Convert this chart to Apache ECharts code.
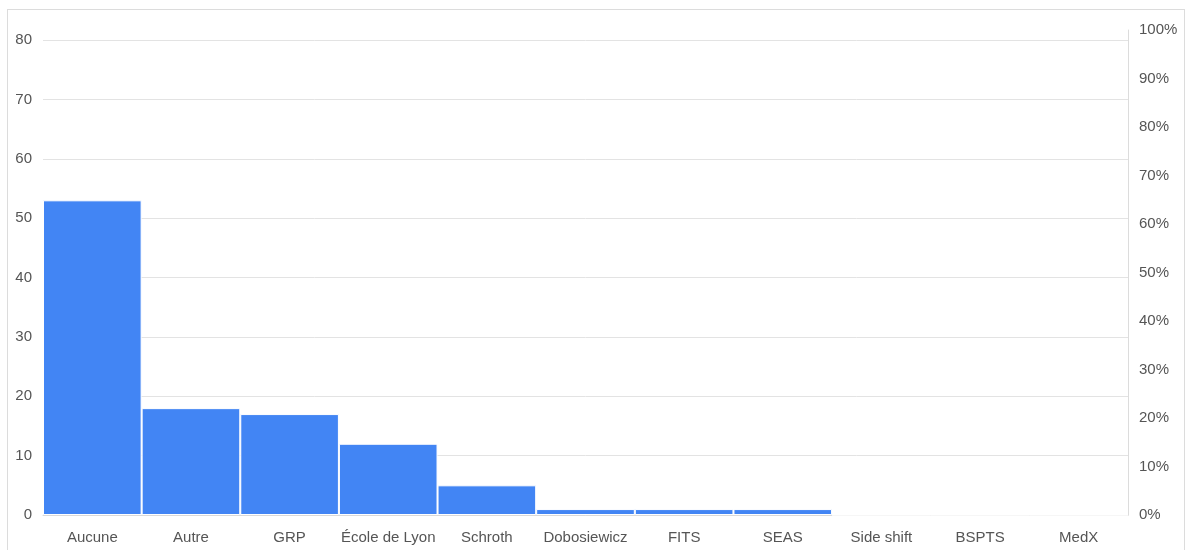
<!DOCTYPE html>
<html><head><meta charset="utf-8">
<script src="https://cdn.jsdelivr.net/npm/echarts@6/dist/echarts.min.js"></script>
<style>
html,body{margin:0;padding:0;background:#fff;}
#frame{position:absolute;left:7px;top:9px;width:1178px;height:600px;border:1px solid #dcdcdc;box-sizing:border-box;}
#c{position:absolute;left:0;top:0;width:1196px;height:550px;}
</style></head>
<body><div id="frame"></div><div id="c"></div>
<script>
const categories = ['Aucune','Autre','GRP','École de Lyon','Schroth','Dobosiewicz','FITS','SEAS','Side shift','BSPTS','MedX'];
const counts = [53,18,17,12,5,1,1,1,0,0,0];
const leftTicks = {min:0,max:80,interval:10};
const rightTicks = {min:0,max:1,interval:0.1};

const font = '"Liberation Sans", Arial, sans-serif';
const labelColor = '#555';
const chart = echarts.init(document.getElementById('c'));
chart.setOption({
  animation:false,
  grid:[
    {left:43,right:68,top:40,bottom:35},
    {left:43,right:68,top:30,bottom:35}
  ],
  xAxis:[
    {type:'category',gridIndex:0,data:categories,
     axisLine:{lineStyle:{color:'#d9d9d9'}},axisTick:{show:false},
     axisLabel:{color:labelColor,fontSize:15,fontFamily:font,margin:15,interval:0}},
    {type:'category',gridIndex:1,data:categories,show:false}
  ],
  yAxis:[
    {type:'value',gridIndex:0,min:leftTicks.min,max:leftTicks.max,interval:leftTicks.interval,
     axisLine:{show:false},axisTick:{show:false},
     splitLine:{lineStyle:{color:'#e3e3e3',width:1}},
     axisLabel:{color:labelColor,fontSize:15,fontFamily:font,margin:11}},
    {type:'value',gridIndex:1,position:'right',min:rightTicks.min,max:rightTicks.max,interval:rightTicks.interval,
     axisLine:{show:true,lineStyle:{color:'#dcdcdc'}},axisTick:{show:false},
     splitLine:{show:false},
     axisLabel:{color:labelColor,fontSize:15,fontFamily:font,margin:11,
       formatter:v=>Math.round(v*100)+'%'}}
  ],
  series:[{
    type:'bar',xAxisIndex:0,yAxisIndex:0,data:counts,
    barCategoryGap:0,
    itemStyle:{color:'#4285f4',borderColor:'#ffffff',borderWidth:1}
  }]
});
</script></body></html>
